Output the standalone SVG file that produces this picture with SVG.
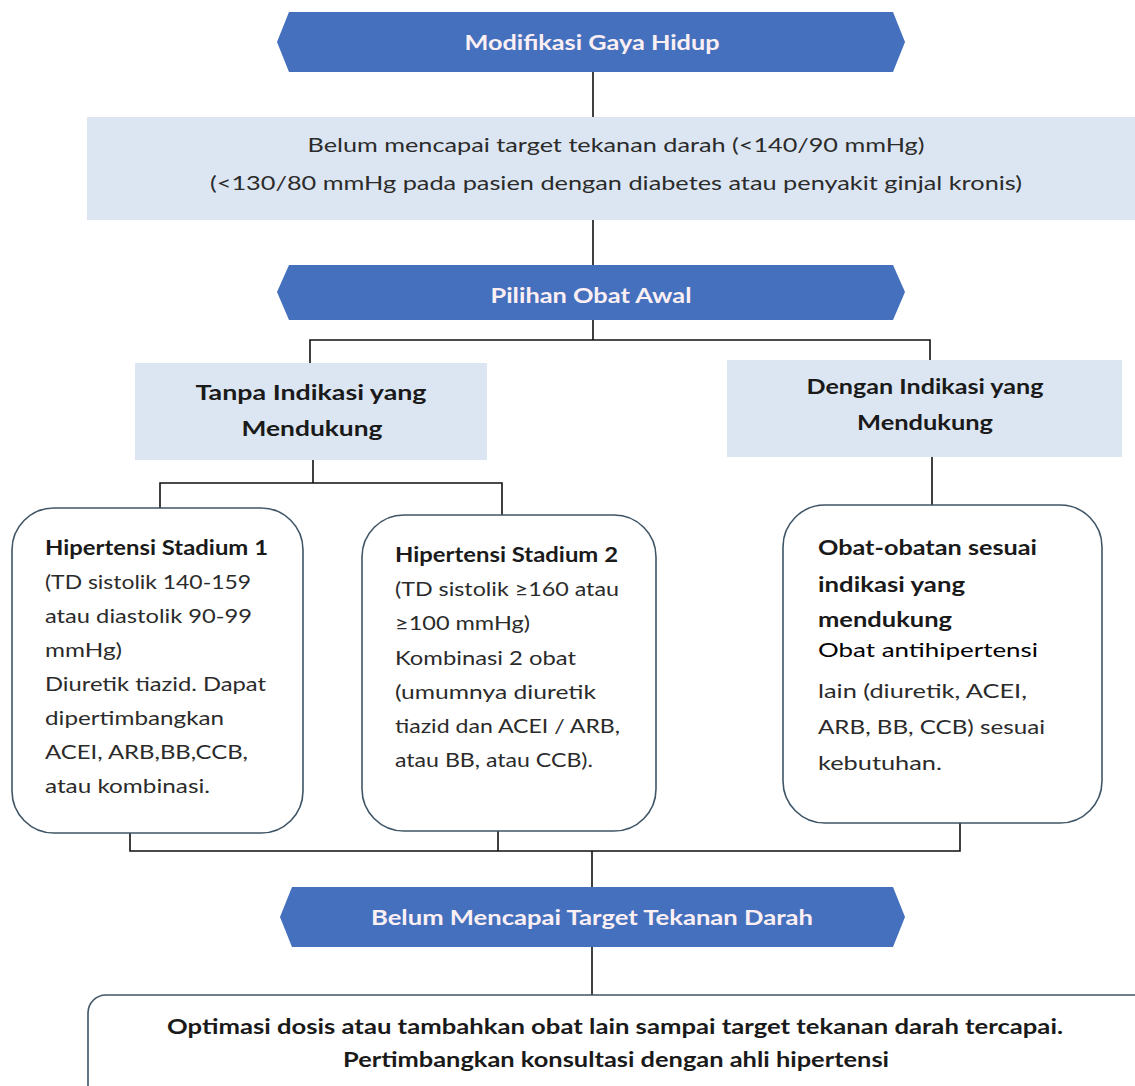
<svg xmlns="http://www.w3.org/2000/svg" width="1135" height="1086" viewBox="0 0 1135 1086">
<style>
.hex{fill:#4470BD;}
.lb{fill:#DCE6F2;}
.rb{fill:#ffffff;stroke:#3F5566;stroke-width:1.6;}
.ht{font-family:Lato,"Liberation Sans",sans-serif;font-weight:bold;font-size:20px;fill:#FCEFF4;text-anchor:middle;}
.t{font-family:Lato,"Liberation Sans",sans-serif;font-size:20px;fill:#2b2b2b;}
.b{font-weight:bold;fill:#1a1a1a;}
.c{text-anchor:middle;}
.k{fill:#000;}
.con{fill:none;stroke:#111;stroke-width:1.6;}
</style>
<rect width="1135" height="1086" fill="#ffffff"/>
<g id="connectors">
<path class="con" d="M593,72 V117"/>
<path class="con" d="M593,220 V265"/>
<path class="con" d="M593,320 V340 M310,363 V340 H930 V360"/>
<path class="con" d="M313,460 V483 M160,508 V483 H502 V515"/>
<path class="con" d="M932,457 V505"/>
<path class="con" d="M130,833 V851 H960 V823 M498,831 V851 M592,851 V887"/>
<path class="con" d="M592,947 V995"/>
</g>
<g id="hex-modifikasi">
<polygon class="hex" points="277,42 289,12 893,12 905,42 893,72 289,72"/>
<text class="ht" x="592" y="50" textLength="255" lengthAdjust="spacingAndGlyphs">Modifikasi Gaya Hidup</text>
</g>
<g id="box-target">
<rect class="lb" x="87" y="117" width="1048" height="103"/>
<text class="t c" x="616" y="152" textLength="617" lengthAdjust="spacingAndGlyphs">Belum mencapai target tekanan darah (&lt;140/90 mmHg)</text>
<text class="t c" x="616" y="190" textLength="812" lengthAdjust="spacingAndGlyphs">(&lt;130/80 mmHg pada pasien dengan diabetes atau penyakit ginjal kronis)</text>
</g>
<g id="hex-pilihan">
<polygon class="hex" points="277,292 289,265 893,265 905,292 893,320 289,320"/>
<text class="ht" x="591" y="303" textLength="201" lengthAdjust="spacingAndGlyphs">Pilihan Obat Awal</text>
</g>
<g id="box-tanpa">
<rect class="lb" x="135" y="363" width="352" height="97"/>
<text class="t b c" x="311" y="400" font-size="22" textLength="231" lengthAdjust="spacingAndGlyphs">Tanpa Indikasi yang</text>
<text class="t b c" x="312" y="436" font-size="22" textLength="141" lengthAdjust="spacingAndGlyphs">Mendukung</text>
</g>
<g id="box-dengan">
<rect class="lb" x="727" y="360" width="395" height="97"/>
<text class="t b c" x="925" y="394" font-size="22" textLength="237" lengthAdjust="spacingAndGlyphs">Dengan Indikasi yang</text>
<text class="t b c" x="925" y="430" font-size="22" textLength="136" lengthAdjust="spacingAndGlyphs">Mendukung</text>
</g>
<g id="box-stadium1">
<rect class="rb" x="12" y="508" width="291" height="325" rx="42" ry="42"/>
<text class="t b" x="45" y="555" textLength="223" lengthAdjust="spacingAndGlyphs">Hipertensi Stadium 1</text>
<text class="t" x="45" y="589" textLength="206" lengthAdjust="spacingAndGlyphs">(TD sistolik 140-159</text>
<text class="t" x="45" y="623" textLength="207" lengthAdjust="spacingAndGlyphs">atau diastolik 90-99</text>
<text class="t" x="45" y="657" textLength="77" lengthAdjust="spacingAndGlyphs">mmHg)</text>
<text class="t" x="45" y="691" textLength="221" lengthAdjust="spacingAndGlyphs">Diuretik tiazid. Dapat</text>
<text class="t" x="45" y="725" textLength="179" lengthAdjust="spacingAndGlyphs">dipertimbangkan</text>
<text class="t" x="45" y="759" textLength="203" lengthAdjust="spacingAndGlyphs">ACEI, ARB,BB,CCB,</text>
<text class="t" x="45" y="793" textLength="165" lengthAdjust="spacingAndGlyphs">atau kombinasi.</text>
</g>
<g id="box-stadium2">
<rect class="rb" x="362" y="515" width="294" height="316" rx="42" ry="42"/>
<text class="t b" x="395" y="562" textLength="223" lengthAdjust="spacingAndGlyphs">Hipertensi Stadium 2</text>
<text class="t" x="395" y="596" textLength="224" lengthAdjust="spacingAndGlyphs">(TD sistolik ≥160 atau</text>
<text class="t" x="395" y="630" textLength="135" lengthAdjust="spacingAndGlyphs">≥100 mmHg)</text>
<text class="t" x="395" y="665" textLength="181" lengthAdjust="spacingAndGlyphs">Kombinasi 2 obat</text>
<text class="t" x="395" y="699" textLength="201" lengthAdjust="spacingAndGlyphs">(umumnya diuretik</text>
<text class="t" x="395" y="733" textLength="225" lengthAdjust="spacingAndGlyphs">tiazid dan ACEI / ARB,</text>
<text class="t" x="395" y="767" textLength="198" lengthAdjust="spacingAndGlyphs">atau BB, atau CCB).</text>
</g>
<g id="box-indikasi">
<rect class="rb" x="783" y="505" width="319" height="318" rx="42" ry="42"/>
<text class="t b" x="818" y="555" textLength="219" lengthAdjust="spacingAndGlyphs">Obat-obatan sesuai</text>
<text class="t b" x="818" y="592" textLength="147" lengthAdjust="spacingAndGlyphs">indikasi yang</text>
<text class="t b" x="818" y="627" textLength="134" lengthAdjust="spacingAndGlyphs">mendukung</text>
<text class="t k" x="818" y="657" textLength="220" lengthAdjust="spacingAndGlyphs">Obat antihipertensi</text>
<text class="t" x="818" y="698" textLength="209" lengthAdjust="spacingAndGlyphs">lain (diuretik, ACEI,</text>
<text class="t" x="818" y="734" textLength="227" lengthAdjust="spacingAndGlyphs">ARB, BB, CCB) sesuai</text>
<text class="t" x="818" y="770" textLength="124" lengthAdjust="spacingAndGlyphs">kebutuhan.</text>
</g>
<g id="hex-belum">
<polygon class="hex" points="280,917 292,887 893,887 905,917 893,947 292,947"/>
<text class="ht" x="592" y="925" textLength="442" lengthAdjust="spacingAndGlyphs">Belum Mencapai Target Tekanan Darah</text>
</g>
<g id="box-optimasi">
<rect class="rb" x="88" y="995" width="1080" height="120" rx="18" ry="18"/>
<text class="t b c" x="615" y="1034" textLength="896" lengthAdjust="spacingAndGlyphs">Optimasi dosis atau tambahkan obat lain sampai target tekanan darah tercapai.</text>
<text class="t b c" x="616" y="1067" textLength="546" lengthAdjust="spacingAndGlyphs">Pertimbangkan konsultasi dengan ahli hipertensi</text>
</g>
</svg>
